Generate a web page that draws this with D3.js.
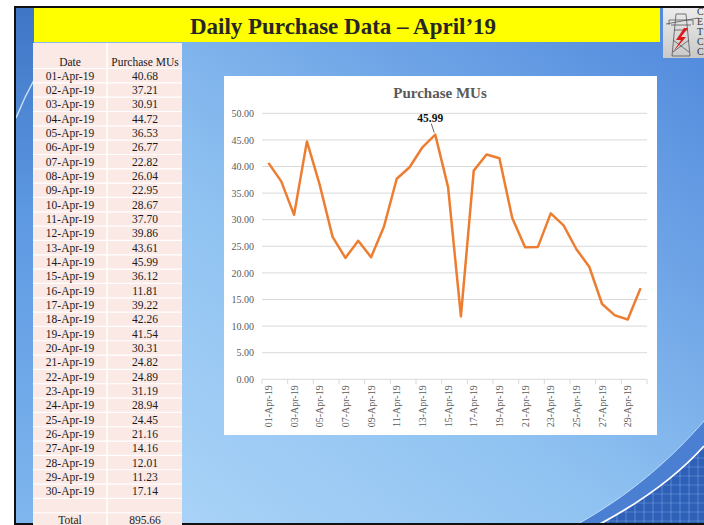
<!DOCTYPE html>
<meta charset="utf-8">
<style>
body { margin: 0; background: #fff; }
svg text { font-family: "Liberation Serif", "Times New Roman", serif; }
</style>
<svg id="svg" width="704" height="525"></svg>
<script src="https://d3js.org/d3.v7.min.js"></script>
<script>
// table + chart data
var dates = ["01-Apr-19","02-Apr-19","03-Apr-19","04-Apr-19","05-Apr-19","06-Apr-19",
  "07-Apr-19","08-Apr-19","09-Apr-19","10-Apr-19","11-Apr-19","12-Apr-19","13-Apr-19",
  "14-Apr-19","15-Apr-19","16-Apr-19","17-Apr-19","18-Apr-19","19-Apr-19","20-Apr-19",
  "21-Apr-19","22-Apr-19","23-Apr-19","24-Apr-19","25-Apr-19","26-Apr-19","27-Apr-19",
  "28-Apr-19","29-Apr-19","30-Apr-19"];
var purchaseMUs = [40.68,37.21,30.91,44.72,36.53,26.77,22.82,26.04,22.95,28.67,37.70,39.86,
  43.61,45.99,36.12,11.81,39.22,42.26,41.54,30.31,24.82,24.89,31.19,28.94,24.45,21.16,
  14.16,12.01,11.23,17.14];
var totalMUs = 895.66;
var yTicks = [0,5,10,15,20,25,30,35,40,45,50];
var labelDate = "14-Apr-19";

var svg = d3.select("#svg");
var fmt = d3.format(".2f");

// ---- slide background ----
var defs = svg.append("defs");
var bg = defs.append("linearGradient").attr("id", "bg")
    .attr("x1", 0).attr("y1", 1).attr("x2", 1).attr("y2", 0);
bg.append("stop").attr("offset", 0).attr("stop-color", "#b2d8f9");
bg.append("stop").attr("offset", 0.45).attr("stop-color", "#8fc2f1");
bg.append("stop").attr("offset", 1).attr("stop-color", "#4e87dc");

var strip = defs.append("linearGradient").attr("id", "strip")
    .attr("x1", 0).attr("y1", 0).attr("x2", 0).attr("y2", 1);
strip.append("stop").attr("offset", 0).attr("stop-color", "#3f76c6");
strip.append("stop").attr("offset", 0.4).attr("stop-color", "#5d98e2");
strip.append("stop").attr("offset", 1).attr("stop-color", "#7fb6ee");

var logoG = defs.append("linearGradient").attr("id", "logoG")
    .attr("x1", 0).attr("y1", 0).attr("x2", 0).attr("y2", 1);
logoG.append("stop").attr("offset", 0).attr("stop-color", "#ececec");
logoG.append("stop").attr("offset", 1).attr("stop-color", "#c9c9c9");

defs.append("clipPath").attr("id", "slideClip")
  .append("rect").attr("x", 16).attr("y", 8).attr("width", 688).attr("height", 515);

var slide = svg.append("g").attr("clip-path", "url(#slideClip)");
slide.append("rect").attr("x", 16).attr("y", 8).attr("width", 688).attr("height", 515)
    .attr("fill", "url(#bg)");
slide.append("rect").attr("x", 16).attr("y", 8).attr("width", 18).attr("height", 515)
    .attr("fill", "url(#strip)");
slide.append("path").attr("d", "M16,118 Q24,98 34,80")
    .attr("fill", "none").attr("stroke", "#eaf4ff").attr("stroke-width", 1.5).attr("opacity", 0.8);

// bottom right swoosh
slide.append("path").attr("d", "M576,525 C630,495 670,460 704,421 L704,525 Z")
    .attr("fill", "#4a7fd2");
defs.append("clipPath").attr("id", "gridClip")
  .append("path").attr("d", "M598,525 C645,500 678,475 704,446 L704,525 Z");
var gridArea = slide.append("g").attr("clip-path", "url(#gridClip)");
gridArea.append("rect").attr("x", 590).attr("y", 430).attr("width", 120).attr("height", 100)
    .attr("fill", "#2f60b8");
d3.range(590, 710, 9).forEach(function(x) {
  gridArea.append("line").attr("x1", x).attr("x2", x).attr("y1", 430).attr("y2", 525)
    .attr("stroke", "#8fb8ee").attr("stroke-opacity", 0.45);
});
d3.range(440, 525, 9).forEach(function(y) {
  gridArea.append("line").attr("x1", 590).attr("x2", 704).attr("y1", y).attr("y2", y)
    .attr("stroke", "#8fb8ee").attr("stroke-opacity", 0.35);
});
slide.append("path").attr("d", "M598,525 C645,500 678,475 704,446")
    .attr("fill", "none").attr("stroke", "#ffffff").attr("stroke-width", 1.8);
slide.append("path").attr("d", "M576,525 C630,495 670,460 704,421")
    .attr("fill", "none").attr("stroke", "#bfe0ff").attr("stroke-width", 1);

// frame
svg.append("line").attr("x1", 15).attr("x2", 15).attr("y1", 6).attr("y2", 525)
    .attr("stroke", "#111").attr("stroke-width", 2);
svg.append("line").attr("x1", 14).attr("x2", 704).attr("y1", 7).attr("y2", 7)
    .attr("stroke", "#111").attr("stroke-width", 2);
svg.append("line").attr("x1", 14).attr("x2", 704).attr("y1", 524).attr("y2", 524)
    .attr("stroke", "#111").attr("stroke-width", 2);

// ---- title bar ----
svg.append("rect").attr("x", 34).attr("y", 8).attr("width", 626).attr("height", 34)
    .attr("fill", "#ffff00");
svg.append("text").attr("x", 343).attr("y", 34)
    .attr("text-anchor", "middle").attr("font-size", 23).attr("font-weight", "bold")
    .attr("fill", "#262626").text("Daily Purchase Data \u2013 April\u201919");

// ---- logo ----
var logo = svg.append("g");
logo.append("rect").attr("x", 663).attr("y", 8).attr("width", 41).attr("height", 50)
    .attr("fill", "url(#logoG)");
logo.append("path")
    .attr("d", "M669,20 L693,20 M671,25 L691,25 M676,14 L672,56 M686,14 L690,56 M676,14 L686,14 M672,56 L690,56 M673,40 L689,52 M689,40 L673,52 M674,30 L688,30 M669,20 L669,25 M693,20 L693,25 M666,24 L698,18")
    .attr("fill", "none").attr("stroke", "#555").attr("stroke-width", 0.8);
logo.append("path").attr("d", "M684,28 L676,40 L681,40 L673,52 L686,37 L681,37 L688,28 Z")
    .attr("fill", "#e01818");
["C","E","T","C","C"].forEach(function(c, i) {
  logo.append("text").attr("x", 697).attr("y", 15 + i * 10)
    .attr("font-family", "Liberation Sans, Arial, sans-serif").attr("font-size", 10)
    .attr("fill", "#333").text(c);
});

// ---- table ----
var tblX = 33, tblW = 149, colX = 107;
var headTop = 43, headBottom = 68.5, rowH = 14.33;
var nRows = dates.length + 2;
var tbl = svg.append("g");
tbl.append("rect").attr("x", tblX).attr("y", headTop).attr("width", tblW)
    .attr("height", 525 - headTop).attr("fill", "#fbe9e6");
for (var i = 0; i <= nRows; i++) {
  tbl.append("line").attr("x1", tblX).attr("x2", tblX + tblW)
    .attr("y1", headBottom + i * rowH).attr("y2", headBottom + i * rowH)
    .attr("stroke", "#ffffff").attr("stroke-width", 1.2);
}
tbl.append("line").attr("x1", colX).attr("x2", colX).attr("y1", headTop).attr("y2", 525)
    .attr("stroke", "#ffffff").attr("stroke-width", 1.5);

var c1 = 70, c2 = 145;
tbl.append("text").attr("x", c1).attr("y", 66).attr("text-anchor", "middle")
    .attr("font-size", 11.5).attr("fill", "#1a1a1a").text("Date");
tbl.append("text").attr("x", c2).attr("y", 66).attr("text-anchor", "middle")
    .attr("font-size", 11.5).attr("fill", "#1a1a1a").text("Purchase MUs");

var rows = tbl.selectAll("g.row").data(dates).enter().append("g").attr("class", "row")
    .attr("transform", function(d, i) { return "translate(0," + (headBottom + (i + 0.5) * rowH) + ")"; });
rows.append("text").attr("x", c1).attr("dy", "0.35em").attr("text-anchor", "middle")
    .attr("font-size", 11.5).attr("fill", "#1a1a1a").text(function(d) { return d; });
rows.append("text").attr("x", c2).attr("dy", "0.35em").attr("text-anchor", "middle")
    .attr("font-size", 11.5).attr("fill", "#1a1a1a")
    .text(function(d, i) { return fmt(purchaseMUs[i]); });

var totalY = headBottom + (dates.length + 1.5) * rowH;
tbl.append("text").attr("x", c1).attr("y", totalY).attr("dy", "0.35em").attr("text-anchor", "middle")
    .attr("font-size", 11.5).attr("fill", "#1a1a1a").text("Total");
tbl.append("text").attr("x", c2).attr("y", totalY).attr("dy", "0.35em").attr("text-anchor", "middle")
    .attr("font-size", 11.5).attr("fill", "#1a1a1a").text(fmt(totalMUs));

// ---- chart ----
svg.append("rect").attr("x", 224).attr("y", 76).attr("width", 433).attr("height", 359)
    .attr("fill", "#ffffff");
svg.append("text").attr("x", 440).attr("y", 98).attr("text-anchor", "middle")
    .attr("font-size", 15).attr("font-weight", "bold").attr("fill", "#595959")
    .text("Purchase MUs");

var x = d3.scaleBand().domain(dates).range([262, 647]).padding(0);
var y = d3.scaleLinear().domain([0, 50]).range([379.3, 113.3]);

// gridlines
svg.append("g").selectAll("line").data(yTicks.slice(1)).enter().append("line")
    .attr("x1", 262).attr("x2", 647)
    .attr("y1", function(d) { return y(d); }).attr("y2", function(d) { return y(d); })
    .attr("stroke", "#d9d9d9").attr("stroke-width", 1);

// y axis labels
var yAxis = svg.append("g").attr("transform", "translate(258,0)")
    .call(d3.axisLeft(y).tickValues(yTicks).tickFormat(fmt).tickSize(0));
yAxis.select(".domain").remove();
yAxis.selectAll("text").attr("font-family", "Liberation Serif, serif")
    .attr("font-size", 10).attr("fill", "#595959").attr("x", -4);

// x axis
svg.append("line").attr("x1", 262).attr("x2", 647).attr("y1", y(0)).attr("y2", y(0))
    .attr("stroke", "#d9d9d9").attr("stroke-width", 1);
var tickPos = dates.filter(function(d, i) { return i % 2 === 0; })
    .map(function(d) { return x(d); }).concat([x(dates[dates.length - 1]) + x.bandwidth()]);
svg.append("g").selectAll("line").data(tickPos).enter().append("line")
    .attr("x1", function(d) { return d; }).attr("x2", function(d) { return d; })
    .attr("y1", y(0)).attr("y2", y(0) + 5)
    .attr("stroke", "#d9d9d9").attr("stroke-width", 1);

var xAxis = svg.append("g").attr("transform", "translate(0," + y(0) + ")")
    .call(d3.axisBottom(x).tickValues(dates.filter(function(d, i) { return i % 2 === 0; })).tickSize(0));
xAxis.select(".domain").remove();
xAxis.selectAll("text")
    .attr("font-family", "Liberation Serif, serif").attr("font-size", 10).attr("fill", "#595959")
    .attr("transform", "rotate(-90)").attr("text-anchor", "end")
    .attr("x", -6).attr("y", 0).attr("dy", "0.35em");

// line
var line = d3.line()
    .x(function(d, i) { return x(dates[i]) + x.bandwidth() / 2; })
    .y(function(d) { return y(d); });
svg.append("path").datum(purchaseMUs).attr("d", line)
    .attr("fill", "none").attr("stroke", "#ed7d31").attr("stroke-width", 2.5)
    .attr("stroke-linejoin", "round");

// data label for peak
var li = dates.indexOf(labelDate);
var px = x(labelDate) + x.bandwidth() / 2, py = y(purchaseMUs[li]);
svg.append("line").attr("x1", px - 4).attr("y1", py - 11).attr("x2", px - 1).attr("y2", py - 2)
    .attr("stroke", "#404040").attr("stroke-width", 0.8);
svg.append("text").attr("x", px - 5).attr("y", py - 13).attr("text-anchor", "middle")
    .attr("font-size", 11.5).attr("font-weight", "bold").attr("fill", "#111")
    .text(fmt(purchaseMUs[li]));
</script>
